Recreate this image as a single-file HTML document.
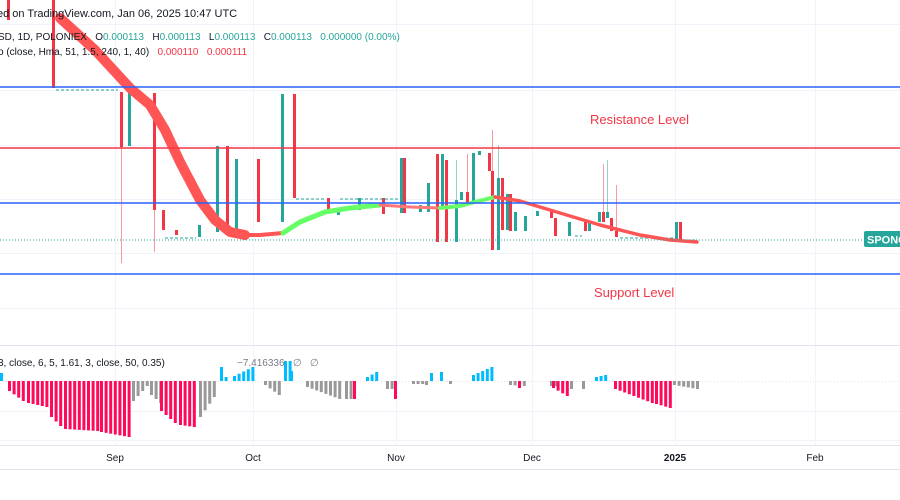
<!DOCTYPE html>
<html><head><meta charset="utf-8"><style>
html,body{margin:0;padding:0;background:#fff;width:900px;height:500px;overflow:hidden;font-family:"Liberation Sans",sans-serif}
svg{position:absolute;left:0;top:0}
text{white-space:pre}
</style></head><body>
<svg id="s" width="900" height="500" xmlns="http://www.w3.org/2000/svg">
<rect width="900" height="500" fill="#fff"/>
<g stroke="#f0f3fa" stroke-width="1">
<line x1="115.5" y1="0" x2="115.5" y2="445"/><line x1="253.5" y1="0" x2="253.5" y2="445"/>
<line x1="396.5" y1="0" x2="396.5" y2="445"/><line x1="532.5" y1="0" x2="532.5" y2="445"/>
<line x1="675.5" y1="0" x2="675.5" y2="445"/><line x1="815.5" y1="0" x2="815.5" y2="445"/>
<line x1="0" y1="24.5" x2="900" y2="24.5"/><line x1="0" y1="90.5" x2="900" y2="90.5"/>
<line x1="0" y1="145.5" x2="900" y2="145.5"/><line x1="0" y1="199.5" x2="900" y2="199.5"/>
<line x1="0" y1="253.5" x2="900" y2="253.5"/><line x1="0" y1="308.5" x2="900" y2="308.5"/>
<line x1="0" y1="411.5" x2="900" y2="411.5"/><line x1="0" y1="440.5" x2="900" y2="440.5"/>
</g>
<line x1="0" y1="345.5" x2="900" y2="345.5" stroke="#e0e3eb"/>
<line x1="0" y1="445.5" x2="900" y2="445.5" stroke="#e0e3eb"/>
<line x1="0" y1="469.5" x2="900" y2="469.5" stroke="#e0e3eb"/>
<line x1="0" y1="381.5" x2="900" y2="381.5" stroke="#e0e3eb" stroke-dasharray="1,2"/>
<g id="cd"></g>
<g id="hm"></g>
<line x1="0" y1="87" x2="900" y2="87" stroke="#2962ff" stroke-width="1.5"/>
<line x1="0" y1="148" x2="900" y2="148" stroke="#f23645" stroke-width="1.5"/>
<line x1="0" y1="203" x2="900" y2="203" stroke="#2962ff" stroke-width="1.5"/>
<line x1="0" y1="274" x2="900" y2="274" stroke="#2962ff" stroke-width="1.5"/>
<line x1="0" y1="240" x2="862" y2="240" stroke="#26a69a" stroke-dasharray="1,2"/>
<rect x="864" y="231" width="40" height="16" rx="2" fill="#26a69a"/>
<text x="867" y="243.5" font-size="11" font-weight="bold" fill="#fff">SPONG</text>
<text x="590" y="124" font-size="13" fill="#f23645">Resistance Level</text>
<text x="594" y="297" font-size="13" fill="#f23645">Support Level</text>
<text x="-3" y="17" font-size="11" fill="#131722">ed on TradingView.com, Jan 06, 2025 10:47 UTC</text>
<text x="-2" y="40" font-size="10" fill="#131722">SD, 1D, POLONIEX   O<tspan fill="#26a69a">0.000113</tspan>   H<tspan fill="#26a69a">0.000113</tspan>   L<tspan fill="#26a69a">0.000113</tspan>   C<tspan fill="#26a69a">0.000113   0.000000 (0.00%)</tspan></text>
<text x="-2" y="55" font-size="10" fill="#131722">o (close, Hma, 51, 1.5, 240, 1, 40)   <tspan fill="#f23645">0.000110   0.000111</tspan></text>
<text x="-2" y="366" font-size="10" fill="#131722">3, close, 6, 5, 1.61, 3, close, 50, 0.35)</text>
<text x="237" y="366" font-size="10" fill="#787b86">−7.416336   ∅   ∅</text>
<g font-size="10" fill="#131722" text-anchor="middle">
<text x="115" y="461">Sep</text><text x="253" y="461">Oct</text><text x="396" y="461">Nov</text>
<text x="532" y="461">Dec</text><text x="675" y="461" font-weight="bold">2025</text><text x="815" y="461">Feb</text>
</g>
<g id="hist"></g>
</svg>
<script>
var NS="http://www.w3.org/2000/svg";
function el(p,t,a){var e=document.createElementNS(NS,t);for(var k in a)e.setAttribute(k,a[k]);p.appendChild(e);return e;}
var G="#26a69a",R="#f23645";
var cd=document.getElementById("cd");
var C=[[7,R,0,20],[52,R,0,88],[120,R,92,147,92,263],[128,G,92,146],[153,R,93,210,93,252],[162,R,210,230],[175,R,230,235],[198,G,225,237],
[216,G,146,232],[226,R,146,230],[235,G,159,232],[257,R,159,222],[281,G,94,222],[293,R,94,198],[327,R,198,213],[337,G,210,215],[358,G,198,210],[382,R,198,214],
[400,G,158,213],[403,R,158,213],[419,G,205,212],[427,G,183,212],[436,R,154,242],[441,G,154,208],[445,R,160,242],[455,G,200,242,160,242],[460,G,192,200],[466,R,192,203,154,203],
[472,G,153,203],[478,G,151,155],[488,R,153,171],[491,R,171,250,130,250],[497,G,178,250,145,250],[501,R,178,230],[506,G,194,230],[509,R,194,231],[514,G,212,231],
[524,G,216,231],[536,G,211,216],[550,R,212,218],[554,R,218,236],[568,G,222,236],[584,R,222,231],[588,G,222,231],[598,G,212,222],[602,R,212,222,164,222],
[606,G,212,218,160,218],[610,R,218,231],[615,R,231,237,185,237],[675,G,222,240],[679,R,222,240]];
C.forEach(function(c){
 if(c[4]!==undefined)el(cd,"line",{x1:c[0]+1.5,x2:c[0]+1.5,y1:c[4],y2:c[5],stroke:c[1],"stroke-opacity":0.5,"stroke-width":1});
 el(cd,"rect",{x:c[0],y:c[2],width:3,height:Math.max(2,c[3]-c[2]),fill:c[1]});
});
[[56,90,118],[165,238,196],[296,199,325],[340,199,398],[620,238,674],[682,240,697],[575,236,582]].forEach(function(d){
 el(cd,"line",{x1:d[0],x2:d[2],y1:d[1],y2:d[1],stroke:G,"stroke-dasharray":"3,2"});
});
var hm=document.getElementById("hm");
function path(pts,col,w){var d="M"+pts.map(function(p){return p.join(",")}).join(" L");el(hm,"path",{d:d,stroke:col,"stroke-width":w,fill:"none","stroke-linecap":"round","stroke-linejoin":"round"});}
path([[60,18],[95,50],[130,88],[150,105],[165,130],[180,162],[200,200],[215,220],[230,232],[245,235]],"#f55",10);
path([[240,235],[260,235],[283,233]],"#f55",4);
path([[283,233],[300,222],[325,212],[350,208],[380,205]],"#6f6",5);
path([[380,205],[410,207],[440,208]],"#f77",3);
path([[440,208],[460,206],[475,202],[495,197]],"#6f6",4);
path([[495,197],[520,201],[540,207],[560,213],[600,225],[640,235],[670,240],[697,242]],"#f55",3.5);
var h=document.getElementById("hist"),Z=381;
var B="#00bcff",P="#ff0a5a",Y="#999";
function bars(x0,x1,col,v0,v1){var n=Math.round((x1-x0)/4.6);for(var i=0;i<=n;i++){var x=x0+i*4.6,v=v0+(v1-v0)*(n?i/n:0);
 if(v<0)el(h,"rect",{x:x,y:Z+v,width:3,height:-v,fill:col});else el(h,"rect",{x:x,y:Z,width:3,height:v,fill:col});}}
bars(0,0,B,-8,-8);
bars(8,22,P,10,20);bars(27,45,P,22,26);bars(50,60,P,36,45);bars(64,95,P,48,50);bars(100,127,P,51,56);
bars(132,144,Y,20,5);bars(150,157,Y,14,22);bars(160,175,P,30,42);bars(179,195,P,44,46);bars(199,213,Y,36,16);
bars(220,225,B,-14,-4);bars(233,252,B,-5,-14);bars(264,278,Y,4,14);bars(284,288,B,-20,-20);bars(290,292,B,-10,-10);
bars(306,340,Y,6,18);bars(345,350,Y,18,18);bars(353,353,P,18,18);bars(366,375,B,-4,-9);bars(386,390,Y,8,8);bars(394,394,P,18,18);
bars(412,420,Y,3,3);bars(425,425,Y,4,4);bars(430,430,B,-8,-8);bars(440,440,B,-9,-9);bars(449,449,Y,3,3);bars(472,490,B,-6,-14);
bars(509,524,Y,4,5);bars(518,518,P,7,7);bars(550,555,Y,5,5);bars(552,566,P,7,15);bars(570,570,Y,8,8);bars(582,582,Y,8,8);
bars(595,606,B,-4,-6);bars(614,650,P,8,22);bars(655,669,P,23,27);bars(673,698,Y,4,8);
</script>
</body></html>
